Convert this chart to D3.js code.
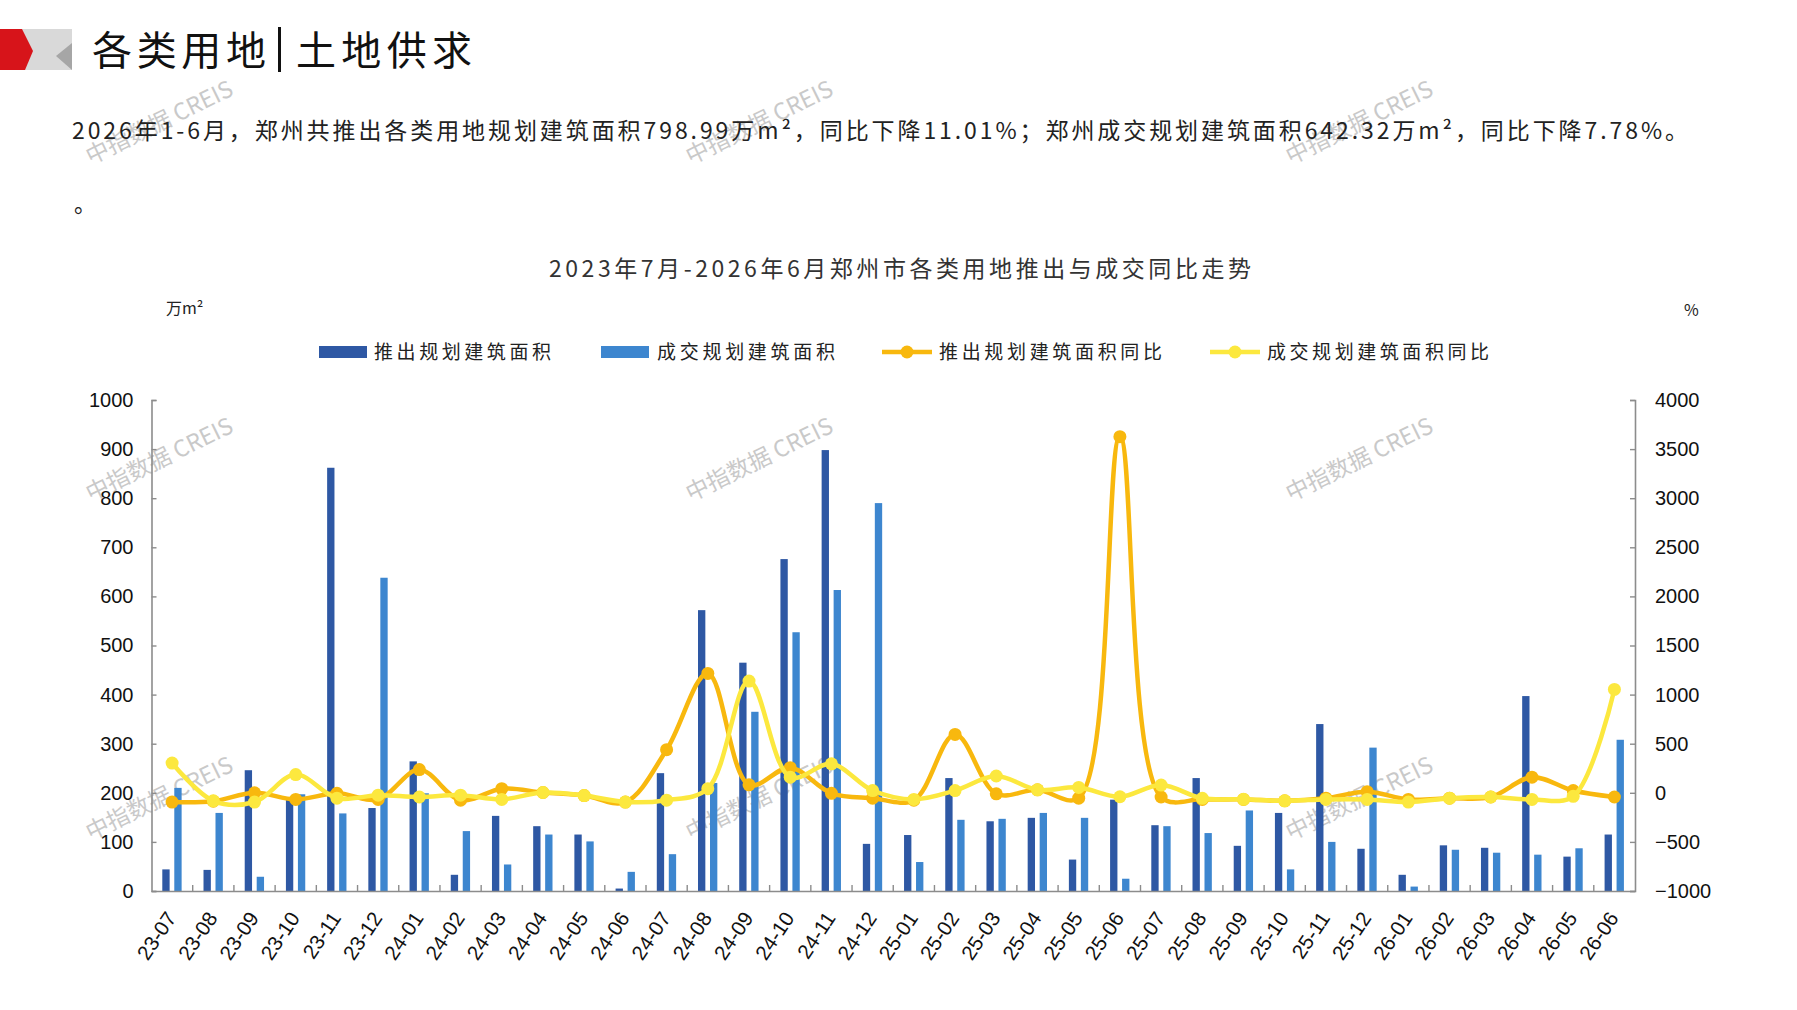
<!DOCTYPE html>
<html><head><meta charset="utf-8">
<script src="https://cdn.jsdelivr.net/npm/d3@7/dist/d3.min.js"></script>
<style>
html,body{margin:0;padding:0;background:#fff;}
svg{display:block;}
</style></head>
<body>
<svg id="chart" width="1797" height="1010"></svg>
<script>
// ---------------- DATA ----------------
const months = ["23-07","23-08","23-09","23-10","23-11","23-12","24-01","24-02","24-03","24-04","24-05","24-06",
  "24-07","24-08","24-09","24-10","24-11","24-12","25-01","25-02","25-03","25-04","25-05","25-06",
  "25-07","25-08","25-09","25-10","25-11","25-12","26-01","26-02","26-03","26-04","26-05","26-06"];
// 推出规划建筑面积 (万㎡)
const supplyArea = [44,43,246,190,862,169,264,33,153,132,115,5,
  240,572,465,676,898,96,114,230,142,149,64,186,
  134,230,92,159,340,86,33,93,88,397,70,115];
// 成交规划建筑面积 (万㎡)
const dealArea = [210,159,29,197,158,638,199,122,54,115,101,39,
  75,220,365,527,613,790,59,145,147,159,149,25,
  132,118,164,44,100,292,9,84,78,74,87,308];
// 推出规划建筑面积同比 (%)
const supplyYoY = [-94,-85,0,-67,-5,-67,236,-75,42,3,-28,-94,
  439,1216,81,256,-5,-55,-75,594,-10,30,-55,3627,
  -43,-67,-67,-82,-55,11,-67,-55,-43,159,23,-43];
// 成交规划建筑面积同比 (%)
const dealYoY = [303,-82,-94,186,-55,-24,-43,-24,-67,3,-28,-94,
  -75,42,1138,159,295,23,-67,23,171,30,55,-40,
  79,-56,-66,-82,-67,-67,-94,-55,-43,-67,-36,1053];
const leftTicks = [0,100,200,300,400,500,600,700,800,900,1000];
const rightTicks = [-1000,-500,0,500,1000,1500,2000,2500,3000,3500,4000];
const seriesNames = ["推出规划建筑面积","成交规划建筑面积","推出规划建筑面积同比","成交规划建筑面积同比"];
const headerLeft = "各类用地", headerRight = "土地供求";
const summary = "2026年1-6月，郑州共推出各类用地规划建筑面积798.99万m²，同比下降11.01%；郑州成交规划建筑面积642.32万m²，同比下降7.78%。";
const chartTitle = "2023年7月-2026年6月郑州市各类用地推出与成交同比走势";
const leftUnit = "万m²", rightUnit = "%";
const watermark = "中指数据 CREIS";

// ---------------- STYLE ----------------
const C = {dark:"#2E58A4", light:"#3D86CF", orange:"#F8B80E", yellow:"#FCE83E", axis:"#8C8C8C"};
const cjk = "'Noto Sans CJK SC','Noto Sans',sans-serif";
const num = "'Liberation Sans',Arial,sans-serif";

const svg = d3.select("#chart");

// watermarks
const wmX = [160,760,1360], wmY = [124,461,800];
const wm = svg.append("g");
wmY.forEach(y=>wmX.forEach(x=>{
  wm.append("text").attr("transform",`translate(${x},${y}) rotate(-26)`)
    .attr("text-anchor","middle").attr("dominant-baseline","middle")
    .attr("font-family",cjk).attr("font-size",23).attr("fill","#c9c9c9")
    .text(watermark);
}));

// header logo
svg.append("polygon").attr("points","0,29 72,29 72,70 0,70").attr("fill","#D9D9D9");
svg.append("polygon").attr("points","72,43 72,70 56,56").attr("fill","#A6A6A6");
svg.append("polygon").attr("points","0,29 22,29 33,51 25,70 0,70").attr("fill","#D7141A");

svg.append("text").attr("x",92).attr("y",65).attr("font-family",cjk).attr("font-size",40)
  .attr("textLength",174).attr("lengthAdjust","spacing").attr("fill","#111").text(headerLeft);
svg.append("rect").attr("x",278).attr("y",27).attr("width",3).attr("height",45).attr("fill","#111");
svg.append("text").attr("x",296).attr("y",65).attr("font-family",cjk).attr("font-size",40)
  .attr("textLength",176).attr("lengthAdjust","spacing").attr("fill","#111").text(headerRight);

svg.append("text").attr("x",72).attr("y",139).attr("font-family",cjk).attr("font-size",23)
  .attr("textLength",1616).attr("lengthAdjust","spacing").attr("fill","#222").text(summary);
svg.append("text").attr("x",74).attr("y",212).attr("font-family",cjk).attr("font-size",22)
  .attr("fill","#222").text("。");

svg.append("text").attr("x",900).attr("y",277).attr("text-anchor","middle").attr("font-family",cjk)
  .attr("font-size",23).attr("textLength",702).attr("lengthAdjust","spacing").attr("fill","#333").text(chartTitle);

svg.append("text").attr("x",166).attr("y",314).attr("font-family",cjk).attr("font-size",16).attr("fill","#222").text(leftUnit);
svg.append("text").attr("x",1684).attr("y",316).attr("font-family",cjk).attr("font-size",16).attr("fill","#222").text(rightUnit);

// ---------------- SCALES ----------------
const plot = {l:151.5, r:1635, t:400, b:891};
const x = d3.scaleBand().domain(months).range([plot.l, plot.r]).padding(0);
const yL = d3.scaleLinear().domain([0,1000]).range([plot.b, plot.t]);
const yR = d3.scaleLinear().domain([-1000,4000]).range([plot.b, plot.t]);
const bw = x.bandwidth();
const barW = bw*0.178, darkOff = -bw*0.238, lightOff = bw*0.053;

// bars
const g = svg.append("g");
g.selectAll("rect.dark").data(months).join("rect").attr("class","dark")
  .attr("x",(m)=>x(m)+bw/2+darkOff).attr("width",barW)
  .attr("y",(m,i)=>yL(supplyArea[i])).attr("height",(m,i)=>yL(0)-yL(supplyArea[i]))
  .attr("fill",C.dark);
g.selectAll("rect.light").data(months).join("rect").attr("class","light")
  .attr("x",(m)=>x(m)+bw/2+lightOff).attr("width",barW)
  .attr("y",(m,i)=>yL(dealArea[i])).attr("height",(m,i)=>yL(0)-yL(dealArea[i]))
  .attr("fill",C.light);

// axes
const fmt = d3.format("d");
const axL = svg.append("g").attr("transform",`translate(${plot.l},0)`)
  .call(d3.axisLeft(yL).tickValues(leftTicks).tickFormat(fmt).tickSize(-5).tickPadding(18));
const axR = svg.append("g").attr("transform",`translate(${plot.r},0)`)
  .call(d3.axisRight(yR).tickValues(rightTicks).tickFormat(fmt).tickSize(-5).tickPadding(20));
[axL,axR].forEach(a=>{
  a.select(".domain").attr("stroke",C.axis).attr("stroke-width",1.6);
  a.selectAll(".tick line").attr("stroke",C.axis).attr("stroke-width",1.4);
  a.selectAll(".tick text").attr("font-family",num).attr("font-size",20).attr("fill","#111");
});
const axB = svg.append("g").attr("transform",`translate(0,${plot.b})`)
  .call(d3.axisBottom(x).tickSize(0).tickFormat(""));
axB.select(".domain").attr("stroke",C.axis).attr("stroke-width",1.6);
axB.selectAll(".tick").remove();
axB.selectAll("line.sep").data(months.slice(1)).join("line").attr("class","sep")
  .attr("x1",m=>x(m)).attr("x2",m=>x(m)).attr("y1",0).attr("y2",-6)
  .attr("stroke",C.axis).attr("stroke-width",1.4);
svg.append("g").selectAll("text").data(months).join("text")
  .attr("transform",m=>`translate(${x(m)+bw/2+5},918) rotate(-56)`)
  .attr("text-anchor","end").attr("font-family",num).attr("font-size",20.5).attr("fill","#111")
  .text(m=>m);

// lines
const line = d3.line().x((d,i)=>x(months[i])+bw/2).y(d=>yR(d)).curve(d3.curveCatmullRom.alpha(0.5));
function drawSeries(vals, col){
  const s = svg.append("g");
  s.append("path").datum(vals).attr("d",line).attr("fill","none").attr("stroke",col)
    .attr("stroke-width",4.5).attr("stroke-linejoin","round");
  s.selectAll("circle").data(vals).join("circle")
    .attr("cx",(d,i)=>x(months[i])+bw/2).attr("cy",d=>yR(d)).attr("r",6.5).attr("fill",col);
}
drawSeries(supplyYoY, C.orange);
drawSeries(dealYoY, C.yellow);

// legend
const lg = svg.append("g");
const ly = 352;
const legendItems = [
  {type:"rect", col:C.dark, sx:319, tx:374, tl:177},
  {type:"rect", col:C.light, sx:601, tx:657, tl:178},
  {type:"line", col:C.orange, sx:882, tx:939, tl:223},
  {type:"line", col:C.yellow, sx:1210, tx:1267, tl:222}
];
legendItems.forEach((it,i)=>{
  if(it.type==="rect"){
    lg.append("rect").attr("x",it.sx).attr("y",ly-6).attr("width",48).attr("height",12).attr("fill",it.col);
  } else {
    lg.append("line").attr("x1",it.sx).attr("x2",it.sx+50).attr("y1",ly).attr("y2",ly)
      .attr("stroke",it.col).attr("stroke-width",4.5);
    lg.append("circle").attr("cx",it.sx+25).attr("cy",ly).attr("r",6.5).attr("fill",it.col);
  }
  lg.append("text").attr("x",it.tx).attr("y",ly+7).attr("font-family",cjk).attr("font-size",19)
    .attr("textLength",it.tl).attr("lengthAdjust","spacing").attr("fill","#222").text(seriesNames[i]);
});
</script>
</body></html>
